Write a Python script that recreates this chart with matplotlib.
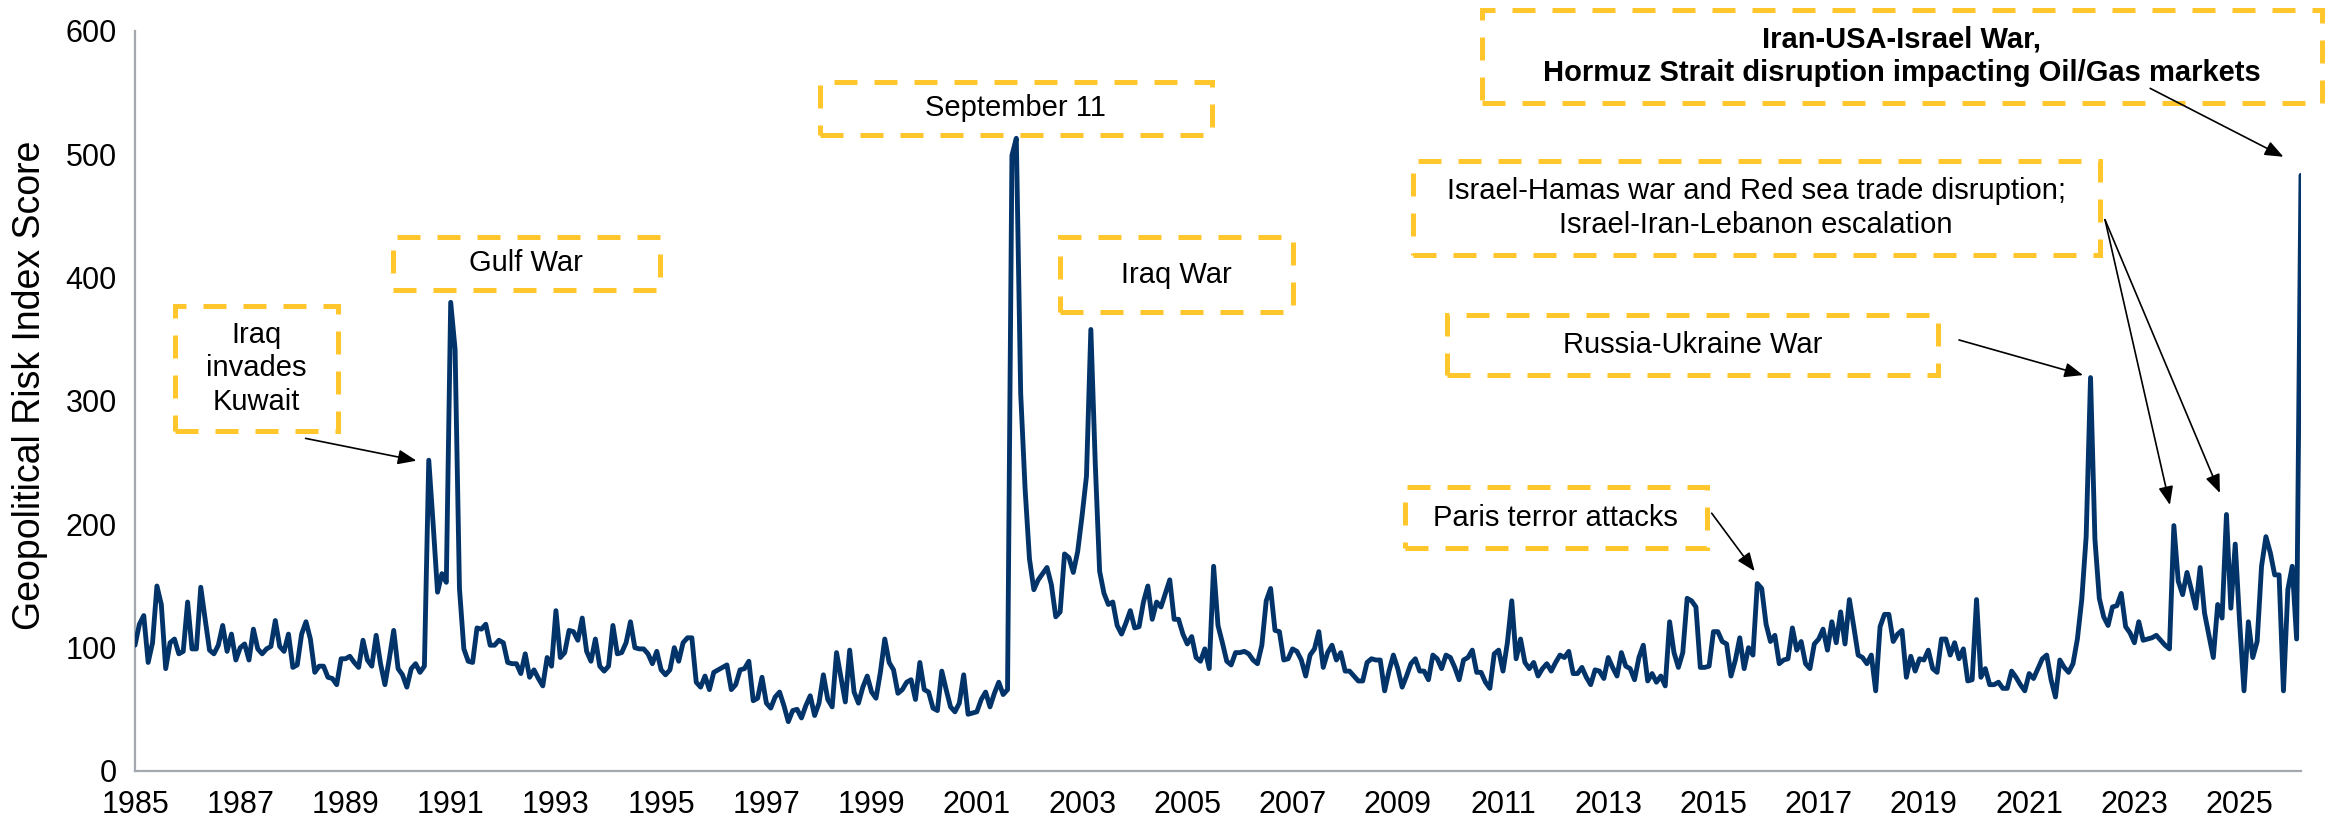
import matplotlib
matplotlib.use("Agg")
import matplotlib.pyplot as plt
from matplotlib.patches import Rectangle
import numpy as np

# ---------------- data (monthly GPR index, Jan 1985 onwards) ----------------
gpr_1985_1989 = [102, 119, 126, 88, 104, 150, 135, 83, 104, 107, 95, 97,
                 137, 99, 99, 149, 123, 98, 95, 102, 118, 97, 111, 90,
                 100, 103, 90, 115, 99, 95, 99, 101, 122, 101, 97, 111,
                 84, 86, 111, 121, 107, 80, 85, 85, 76, 75, 70, 91,
                 91, 93, 88, 84, 106, 90, 85, 110, 87, 70, 91, 114]
gpr_1990_1994 = [83, 78, 68, 83, 87, 80, 85, 252, 200, 145, 160, 153,
                 380, 342, 148, 99, 89, 88, 116, 115, 119, 102, 102, 106,
                 104, 88, 87, 87, 79, 95, 76, 82, 75, 69, 92, 85,
                 130, 92, 96, 114, 113, 106, 124, 97, 89, 107, 85, 81,
                 85, 118, 95, 96, 104, 121, 100, 99, 99, 95, 87, 97]
gpr_1995_1999 = [82, 78, 82, 100, 89, 104, 108, 108, 72, 68, 77, 66,
                 80, 82, 84, 86, 66, 70, 82, 83, 89, 57, 59, 76,
                 55, 51, 60, 64, 53, 40, 49, 50, 43, 53, 61, 45,
                 55, 78, 58, 52, 96, 76, 56, 98, 64, 55, 68, 77,
                 64, 59, 80, 107, 88, 82, 63, 66, 72, 74, 58, 88]
gpr_2000_2004 = [66, 64, 51, 49, 81, 66, 52, 48, 55, 78, 46, 47,
                 48, 58, 64, 52, 63, 72, 62, 66, 499, 513, 306, 229,
                 172, 147, 155, 160, 165, 151, 125, 129, 176, 173, 161, 178,
                 207, 239, 358, 250, 162, 144, 135, 137, 118, 111, 120, 130,
                 116, 117, 137, 150, 123, 137, 133, 144, 155, 123, 123, 111]
gpr_2005_2009 = [103, 109, 92, 89, 99, 83, 166, 118, 104, 89, 86, 96,
                 96, 97, 95, 90, 87, 102, 138, 148, 114, 113, 90, 91,
                 99, 97, 90, 77, 94, 99, 113, 84, 96, 102, 90, 96,
                 81, 81, 77, 73, 73, 88, 91, 90, 90, 65, 81, 94,
                 83, 68, 77, 87, 91, 81, 81, 74, 94, 91, 83, 94]
gpr_2010_2014 = [92, 84, 74, 90, 92, 98, 80, 80, 72, 67, 95, 98,
                 81, 104, 138, 91, 107, 88, 83, 88, 77, 83, 87, 81,
                 88, 94, 92, 97, 79, 79, 84, 76, 70, 82, 81, 75,
                 92, 84, 77, 96, 85, 83, 74, 92, 102, 73, 79, 72,
                 77, 69, 121, 96, 84, 96, 140, 138, 133, 84, 84, 85]
gpr_2015_2019 = [113, 113, 105, 103, 77, 90, 108, 83, 100, 94, 152, 148,
                 119, 105, 110, 87, 90, 91, 116, 98, 105, 87, 83, 103,
                 107, 115, 98, 121, 104, 129, 103, 139, 117, 94, 92, 87,
                 94, 65, 117, 127, 127, 105, 111, 114, 76, 93, 81, 91,
                 90, 98, 83, 80, 107, 107, 94, 104, 91, 99, 73, 74]
gpr_2020_2024 = [139, 76, 83, 70, 70, 72, 67, 67, 81, 76, 70, 65,
                 79, 75, 83, 91, 94, 74, 60, 90, 84, 80, 87, 107,
                 139, 190, 319, 188, 140, 125, 118, 133, 134, 144, 117, 112,
                 104, 121, 106, 107, 108, 110, 106, 102, 99, 199, 154, 143,
                 161, 147, 132, 165, 128, 110, 92, 135, 124, 208, 132, 184]
gpr_2025_2026 = [121, 65, 121, 92, 105, 166, 190, 177, 159, 159, 65, 147,
                 166, 107, 483]

start_year = 1985
label_years = list(range(1985, 2026, 2))
y_ticks = [0, 100, 200, 300, 400, 500, 600]

series = (gpr_1985_1989 + gpr_1990_1994 + gpr_1995_1999 + gpr_2000_2004 +
          gpr_2005_2009 + gpr_2010_2014 + gpr_2015_2019 + gpr_2020_2024 +
          gpr_2025_2026)
months = np.arange(len(series))

# ---------------- style ----------------
plt.rcParams['font.family'] = ['Liberation Sans', 'DejaVu Sans']
NAVY = '#02346A'
GOLD = '#FFC72C'
SPINE = '#A3A8AE'

W, H = 2349, 826
fig = plt.figure(figsize=(W / 100, H / 100), dpi=100)
ax = fig.add_axes([135 / W, 55 / H, 2166 / W, 740 / H])

ax.plot(months, series, color=NAVY, lw=3.5, solid_joinstyle='round',
        solid_capstyle='round', zorder=3)

ax.set_xlim(0, len(series) - 1)
ax.set_ylim(0, 600)
ax.set_yticks(y_ticks)
ax.set_yticklabels([str(t) for t in y_ticks])
ax.set_xticks([(y - start_year) * 12 for y in label_years])
ax.set_xticklabels([str(y) for y in label_years])
ax.tick_params(axis='both', length=0, labelsize=22, colors='black')
ax.tick_params(axis='x', pad=14)
ax.tick_params(axis='y', pad=13)
for s in ['top', 'right']:
    ax.spines[s].set_visible(False)
for s in ['left', 'bottom']:
    ax.spines[s].set_color(SPINE)
    ax.spines[s].set_linewidth(1.6)

fig.text(30 / W, 1 - 385 / H, 'Geopolitical Risk Index Score', rotation=90,
         ha='center', va='center', fontsize=27)

# ---------------- annotation boxes ----------------
# (text, x0, x1, y0, y1, bold) in data units (month index, score)
boxes = [
    ('Iraq\ninvades\nKuwait', 9.1, 46.3, 276, 377, False),
    ('Gulf War', 58.8, 119.7, 390, 433, False),
    ('September 11', 156.2, 245.6, 516, 559, False),
    ('Iraq War', 211.0, 264.0, 372, 433, False),
    ('Paris terror attacks', 289.6, 358.5, 181, 230, False),
    ('Russia-Ukraine War', 299.2, 411.2, 321, 370, False),
    ('Israel-Hamas war and Red sea trade disruption;\nIsrael-Iran-Lebanon escalation',
     291.4, 448.1, 418, 495, False),
    ('Iran-USA-Israel War,\nHormuz Strait disruption impacting Oil/Gas markets',
     307.2, 498.7, 542, 617, True),
]
for text, x0, x1, y0, y1, bold in boxes:
    ax.add_patch(Rectangle((x0, y0), x1 - x0, y1 - y0, fill=False,
                           ec=GOLD, lw=3.6, ls=(0, (4.6, 3.4)), clip_on=False,
                           zorder=4))
    ax.text((x0 + x1) / 2, (y0 + y1) / 2, text, ha='center', va='center',
            fontsize=21, fontweight='bold' if bold else 'normal',
            linespacing=1.25, zorder=5, clip_on=False)

# ---------------- arrows ----------------
arrows = [
    ((38.9, 269.7), (64.2, 251.6)),
    ((359.6, 209.0), (369.4, 162.0)),
    ((416.0, 349.5), (444.3, 321.0)),
    ((449.3, 447.0), (464.1, 215.7)),
    ((449.3, 447.0), (475.5, 225.4)),
    ((459.6, 553.5), (490.0, 498.0)),
]
for (sx, sy), (tx, ty) in arrows:
    ax.annotate('', xy=(tx, ty), xytext=(sx, sy),
                arrowprops=dict(arrowstyle='-|>,head_length=0.4,head_width=0.16',
                                color='black', lw=1.2,
                                mutation_scale=28, shrinkA=0, shrinkB=0),
                annotation_clip=False, zorder=6)

fig.savefig('out.png', dpi=100)
